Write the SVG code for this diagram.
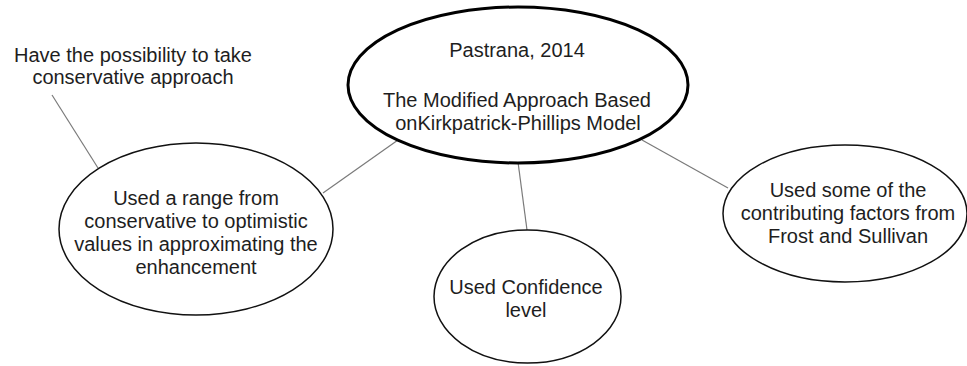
<svg xmlns="http://www.w3.org/2000/svg" width="967" height="366" viewBox="0 0 967 366">
<style>
  .t { font-family: "Liberation Sans", Arial, Helvetica, sans-serif; font-size: 20px; fill: #1e1e1e; text-anchor: middle; }
  .node { fill: #ffffff; stroke: #111111; stroke-width: 1.5; }
  .main { fill: #ffffff; stroke: #000000; stroke-width: 3; }
  .edge { stroke: #7a7a7a; stroke-width: 1.2; fill: none; }
</style>
<rect width="967" height="366" fill="#ffffff"/>
<g id="connectors">
  <line class="edge" x1="398" y1="140" x2="323" y2="193"/>
  <line class="edge" x1="518" y1="162" x2="527" y2="230"/>
  <line class="edge" x1="642" y1="140" x2="728" y2="188"/>
  <line class="edge" x1="52" y1="95" x2="98" y2="168"/>
</g>
<g id="main">
  <ellipse class="main" cx="518" cy="85" rx="170" ry="78"/>
  <text class="t" x="517" y="57">Pastrana, 2014</text>
  <text class="t" x="517" y="107">The Modified Approach Based</text>
  <text class="t" x="518" y="130">onKirkpatrick-Phillips Model</text>
</g>
<g id="note">
  <text class="t" x="133" y="62">Have the possibility to take</text>
  <text class="t" x="133" y="84">conservative approach</text>
</g>
<g id="range">
  <ellipse class="node" cx="196" cy="229" rx="137" ry="86"/>
  <text class="t" x="196" y="205">Used a range from</text>
  <text class="t" x="196" y="228">conservative to optimistic</text>
  <text class="t" x="196" y="251">values in approximating the</text>
  <text class="t" x="196" y="274">enhancement</text>
</g>
<g id="confidence">
  <ellipse class="node" cx="527.5" cy="296.5" rx="93.5" ry="66.5"/>
  <text class="t" x="526" y="294">Used Confidence</text>
  <text class="t" x="526" y="317">level</text>
</g>
<g id="factors">
  <ellipse class="node" cx="845" cy="213.5" rx="122" ry="68.5"/>
  <text class="t" x="848" y="197">Used some of the</text>
  <text class="t" x="848" y="220">contributing factors from</text>
  <text class="t" x="848" y="243">Frost and Sullivan</text>
</g>
</svg>
